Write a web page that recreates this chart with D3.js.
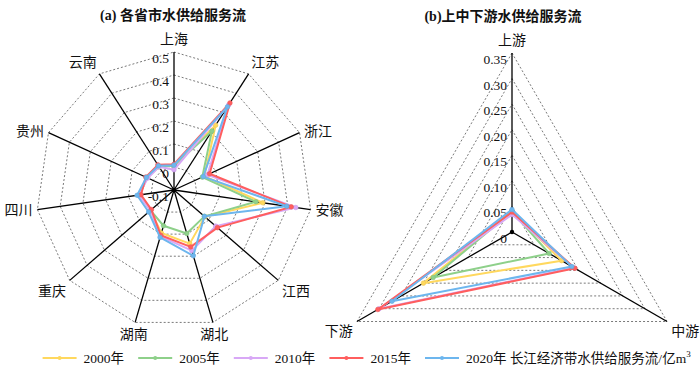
<!DOCTYPE html>
<html><head><meta charset="utf-8">
<script src="https://cdn.jsdelivr.net/npm/d3@7"></script>
<style>
body{margin:0;background:#fff}
text{font-family:"Liberation Serif","Times New Roman","Noto Sans CJK SC",serif}
</style>
</head><body>
<svg id="c" width="700" height="382"></svg>
<script>
// ---------- data ----------
const provinces = ["上海","江苏","浙江","安徽","江西","湖北","湖南","重庆","四川","贵州","云南"];
const years = ["2000年","2005年","2010年","2015年","2020年"];
const prov2000 = [0.005, 0.235, 0.045, 0.29, 0.078, 0.143, 0.095, 0.035, 0.05, 0.03, 0.02];
const prov2005 = [0.005, 0.205, 0.035, 0.26, 0.075, 0.097, 0.062, 0.035, 0.05, 0.03, 0.02];
const prov2010 = [-0.012, 0.34, 0.06, 0.435, 0.14, 0.175, 0.11, 0.035, 0.055, 0.025, 0.02];
const prov2015 = [0.012, 0.35, 0.07, 0.415, 0.15, 0.158, 0.105, 0.03, 0.045, 0.035, 0.03];
const prov2020 = [0.008, 0.33, 0.04, 0.395, 0.075, 0.198, 0.115, 0.046, 0.062, 0.032, 0.025];
const provTicks = [-0.1, 0, 0.1, 0.2, 0.3, 0.4, 0.5];

const regions = ["上游","中游","下游"];
const reg2000 = [0.040, 0.112, 0.200];
const reg2005 = [0.040, 0.084, 0.178];
const reg2010 = [0.034, 0.140, 0.300];
const reg2015 = [0.039, 0.142, 0.303];
const reg2020 = [0.044, 0.135, 0.271];
const regTicks = [0, 0.05, 0.10, 0.15, 0.20, 0.25, 0.30, 0.35];

const colors = ["#FFD85E","#8ED08A","#D8A8F6","#FF5E5E","#6DB6EE"];
const legendTitle = "长江经济带水供给服务流/亿m";

const svg = d3.select("#c");

function radar(cx, cy, R, axes, series, ticks, fmt){
  const g = svg.append("g");
  const n = axes.length;
  const ang = d3.scaleLinear().domain([0, n]).range([0, 2*Math.PI]);
  const r = d3.scaleLinear().domain([ticks[0], ticks[ticks.length-1]]).range([0, R]);
  const pt = (i, rad) => [cx + rad*Math.sin(ang(i)), cy - rad*Math.cos(ang(i))];
  const closed = d3.line().curve(d3.curveLinearClosed);
  ticks.slice(1).forEach(t => {
    g.append("path").attr("d", closed(d3.range(n).map(i => pt(i, r(t)))))
      .attr("fill","none").attr("stroke","#7a7a7a").attr("stroke-width",1)
      .attr("stroke-dasharray","2,2");
  });
  d3.range(n).forEach(i => {
    const e = pt(i, R);
    g.append("line").attr("x1",cx).attr("y1",cy).attr("x2",e[0]).attr("y2",e[1])
      .attr("stroke","#000").attr("stroke-width",1.3);
  });
  g.append("circle").attr("cx",cx).attr("cy",cy).attr("r",2.2).attr("fill","#000");
  ticks.forEach(t => {
    g.append("text").attr("x", cx-5).attr("y", cy - r(t) + 11).attr("fill","#111")
      .attr("text-anchor","end").attr("font-size",13.5).text(fmt(t));
  });
  axes.forEach((name, i) => {
    const s = Math.sin(ang(i)), c = Math.cos(ang(i));
    const p = pt(i, R + 5);
    const anchor = Math.abs(s) < 0.35 ? "middle" : (s > 0 ? "start" : "end");
    let dy;
    if (c > 0.5) dy = -3; else if (c < -0.45) dy = 12; else dy = 5;
    g.append("text").attr("x", p[0]).attr("y", p[1] + dy).attr("fill","#111")
      .attr("text-anchor", anchor).attr("font-size",14).text(name);
  });
  series.forEach((vals, k) => {
    const pts = vals.map((v, i) => pt(i, r(v)));
    g.append("path").attr("d", closed(pts)).attr("fill","none")
      .attr("stroke", colors[k]).attr("stroke-width",2).attr("stroke-linejoin","round");
    pts.forEach(p => g.append("circle").attr("cx",p[0]).attr("cy",p[1]).attr("r",2.3)
      .attr("fill", colors[k]).attr("stroke", d3.color(colors[k]).darker(0.2)).attr("stroke-width",0.6));
  });
}

radar(174, 190, 138, provinces, [prov2000, prov2005, prov2010, prov2015, prov2020], provTicks,
  t => t === 0 ? "0" : (t < 0 ? "-" + d3.format(".1f")(-t) : d3.format(".1f")(t)));
radar(512, 232, 179, regions, [reg2000, reg2005, reg2010, reg2015, reg2020], regTicks,
  t => t === 0 ? "0" : d3.format(".2f")(t));

svg.append("text").attr("x",173).attr("y",20).attr("text-anchor","middle").attr("fill","#111")
  .attr("font-size",14).attr("font-weight","bold").text("(a) 各省市水供给服务流");
svg.append("text").attr("x",503).attr("y",21).attr("text-anchor","middle").attr("fill","#111")
  .attr("font-size",14).attr("font-weight","bold").text("(b)上中下游水供给服务流");

const lg = svg.append("g");
years.forEach((y, i) => {
  const x0 = 42.6 + i*95.6, yy = 358;
  lg.append("line").attr("x1",x0).attr("x2",x0+34).attr("y1",yy).attr("y2",yy)
    .attr("stroke",colors[i]).attr("stroke-width",2);
  lg.append("circle").attr("cx",x0+17).attr("cy",yy).attr("r",2).attr("fill",colors[i]);
  const t = lg.append("text").attr("x",x0+41).attr("y",yy+5).attr("fill","#111")
    .attr("font-size",13.5).text(y);
  if (i === years.length-1) {
    t.append("tspan").text(" " + legendTitle);
    t.append("tspan").attr("font-size",9).attr("dy",-6).text("3");
  }
});
</script>
</body></html>
